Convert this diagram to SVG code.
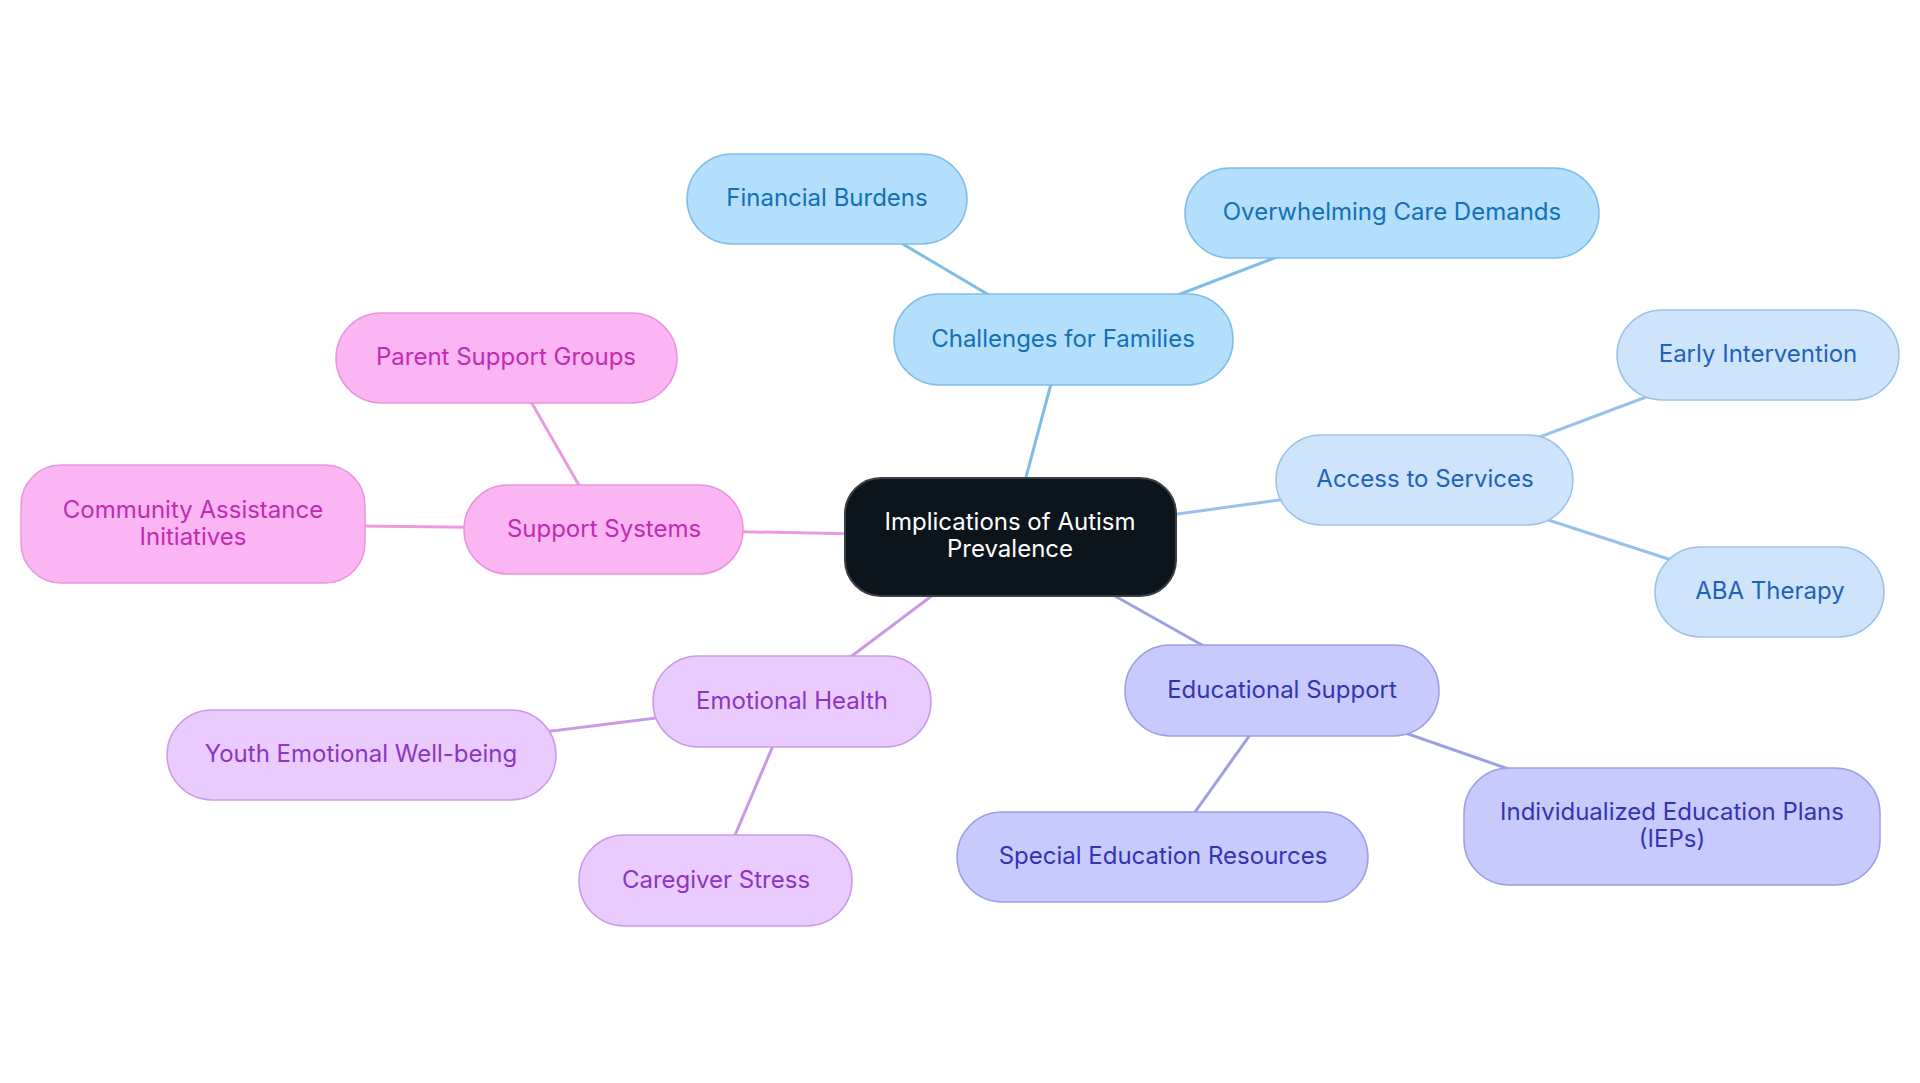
<svg xmlns="http://www.w3.org/2000/svg" width="1920" height="1083" viewBox="0 0 1920 1083">
<style>
text{font-family:Inter,"Noto Sans","Liberation Sans",sans-serif;font-size:24px;text-anchor:middle}
.c line{stroke-width:3;fill:none}
.root rect{fill:#0c141c;stroke:#3a3f45;stroke-width:2}
.root text{fill:#ffffff}
.b1 rect{fill:#b3defc;stroke:#7fbde8;stroke-width:1.5}
.b1 text{fill:#1370b5}
.b2 rect{fill:#cde4fb;stroke:#9cc2ec;stroke-width:1.5}
.b2 text{fill:#1f62b8}
.b3 rect{fill:#c8cafd;stroke:#9d9fe8;stroke-width:1.5}
.b3 text{fill:#3434b2}
.b4 rect{fill:#eacbfd;stroke:#cc9ae8;stroke-width:1.5}
.b4 text{fill:#8b36c2}
.b5 rect{fill:#fbb5f3;stroke:#ea94de;stroke-width:1.5}
.b5 text{fill:#c02bb0}
</style>
<rect width="1920" height="1083" fill="#ffffff"/>
<g class="c" id="connectors">
<line x1="1010" y1="537" x2="1063" y2="339" stroke="#7dbde8"/>
<line x1="1063" y1="339" x2="827" y2="199" stroke="#7dbde8"/>
<line x1="1063" y1="339" x2="1392" y2="213" stroke="#7dbde8"/>
<line x1="1010" y1="537" x2="1425" y2="480" stroke="#98c0e8"/>
<line x1="1425" y1="480" x2="1758" y2="355" stroke="#98c0e8"/>
<line x1="1425" y1="480" x2="1770" y2="592" stroke="#98c0e8"/>
<line x1="1010" y1="537" x2="1282" y2="690" stroke="#9d9fe6"/>
<line x1="1282" y1="690" x2="1672" y2="826" stroke="#9d9fe6"/>
<line x1="1282" y1="690" x2="1163" y2="857" stroke="#9d9fe6"/>
<line x1="1010" y1="537" x2="792" y2="701" stroke="#c99be6"/>
<line x1="792" y1="701" x2="361" y2="755" stroke="#c99be6"/>
<line x1="792" y1="701" x2="716" y2="880" stroke="#c99be6"/>
<line x1="1010" y1="537" x2="604" y2="529" stroke="#eb9ae0"/>
<line x1="604" y1="529" x2="506" y2="358" stroke="#eb9ae0"/>
<line x1="604" y1="529" x2="193" y2="524" stroke="#eb9ae0"/>
</g>
<g id="root" class="root"><rect x="845" y="478" width="331" height="118" rx="36"/><text x="1010" y="530">Implications of Autism</text><text x="1010" y="557">Prevalence</text></g>
<g id="challenges" class="b1"><rect x="894" y="294" width="339" height="91" rx="45"/><text x="1063" y="347">Challenges for Families</text></g>
<g id="financial" class="b1"><rect x="687" y="154" width="280" height="90" rx="45"/><text x="827" y="206">Financial Burdens</text></g>
<g id="overwhelming" class="b1"><rect x="1185" y="168" width="414" height="90" rx="45"/><text x="1392" y="220">Overwhelming Care Demands</text></g>
<g id="access" class="b2"><rect x="1276" y="435" width="297" height="90" rx="45"/><text x="1425" y="487">Access to Services</text></g>
<g id="early" class="b2"><rect x="1617" y="310" width="282" height="90" rx="45"/><text x="1758" y="362">Early Intervention</text></g>
<g id="aba" class="b2"><rect x="1655" y="547" width="229" height="90" rx="45"/><text x="1770" y="599">ABA Therapy</text></g>
<g id="educational" class="b3"><rect x="1125" y="645" width="314" height="91" rx="45"/><text x="1282" y="698">Educational Support</text></g>
<g id="iep" class="b3"><rect x="1464" y="768" width="416" height="117" rx="45"/><text x="1672" y="820">Individualized Education Plans</text><text x="1672" y="847">(IEPs)</text></g>
<g id="special" class="b3"><rect x="957" y="812" width="411" height="90" rx="45"/><text x="1163" y="864">Special Education Resources</text></g>
<g id="emotional" class="b4"><rect x="653" y="656" width="278" height="91" rx="45"/><text x="792" y="709">Emotional Health</text></g>
<g id="youth" class="b4"><rect x="167" y="710" width="389" height="90" rx="45"/><text x="361" y="762">Youth Emotional Well-being</text></g>
<g id="caregiver" class="b4"><rect x="579" y="835" width="273" height="91" rx="45"/><text x="716" y="888">Caregiver Stress</text></g>
<g id="support" class="b5"><rect x="464" y="485" width="279" height="89" rx="44"/><text x="604" y="537">Support Systems</text></g>
<g id="parent" class="b5"><rect x="336" y="313" width="341" height="90" rx="45"/><text x="506" y="365">Parent Support Groups</text></g>
<g id="community" class="b5"><rect x="21" y="465" width="344" height="118" rx="40"/><text x="193" y="518">Community Assistance</text><text x="193" y="545">Initiatives</text></g>
</svg>
